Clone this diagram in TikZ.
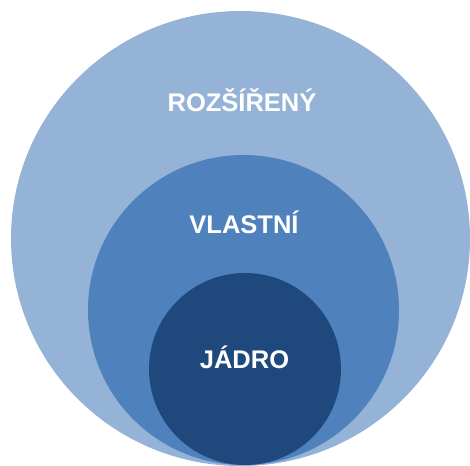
\documentclass[tikz,border=0pt]{standalone}
\usepackage{fontspec}
\setmainfont{Liberation Sans}
\usetikzlibrary{shapes.geometric}
\definecolor{outerc}{HTML}{95B3D7}
\definecolor{midc}{HTML}{4F81BD}
\definecolor{innerc}{HTML}{1F497D}
\tikzset{
  ring/.style={ellipse, inner sep=0pt, outer sep=0pt, draw=none},
  lbl/.style={anchor=base, text=white, font=\fontsize{25.5}{28}\selectfont\bfseries, inner sep=0pt}
}
\begin{document}
\begin{tikzpicture}[x=1pt,y=-1pt]
\useasboundingbox (0,0) rectangle (470,465);
\node[ring, fill=outerc, minimum width=459pt, minimum height=455pt] (outer) at (240.5,238.5) {};
\node[ring, fill=midc, minimum width=311pt, minimum height=310pt] (middle) at (243.5,310) {};
\node[ring, fill=innerc, minimum width=192pt, minimum height=192pt] (inner) at (245,369) {};
\node[lbl] (t1) at (242,112) {ROZŠÍŘENÝ};
\node[lbl] (t2) at (244,233) {VLASTNÍ};
\node[lbl] (t3) at (244.5,368) {JÁDRO};
\end{tikzpicture}
\end{document}
